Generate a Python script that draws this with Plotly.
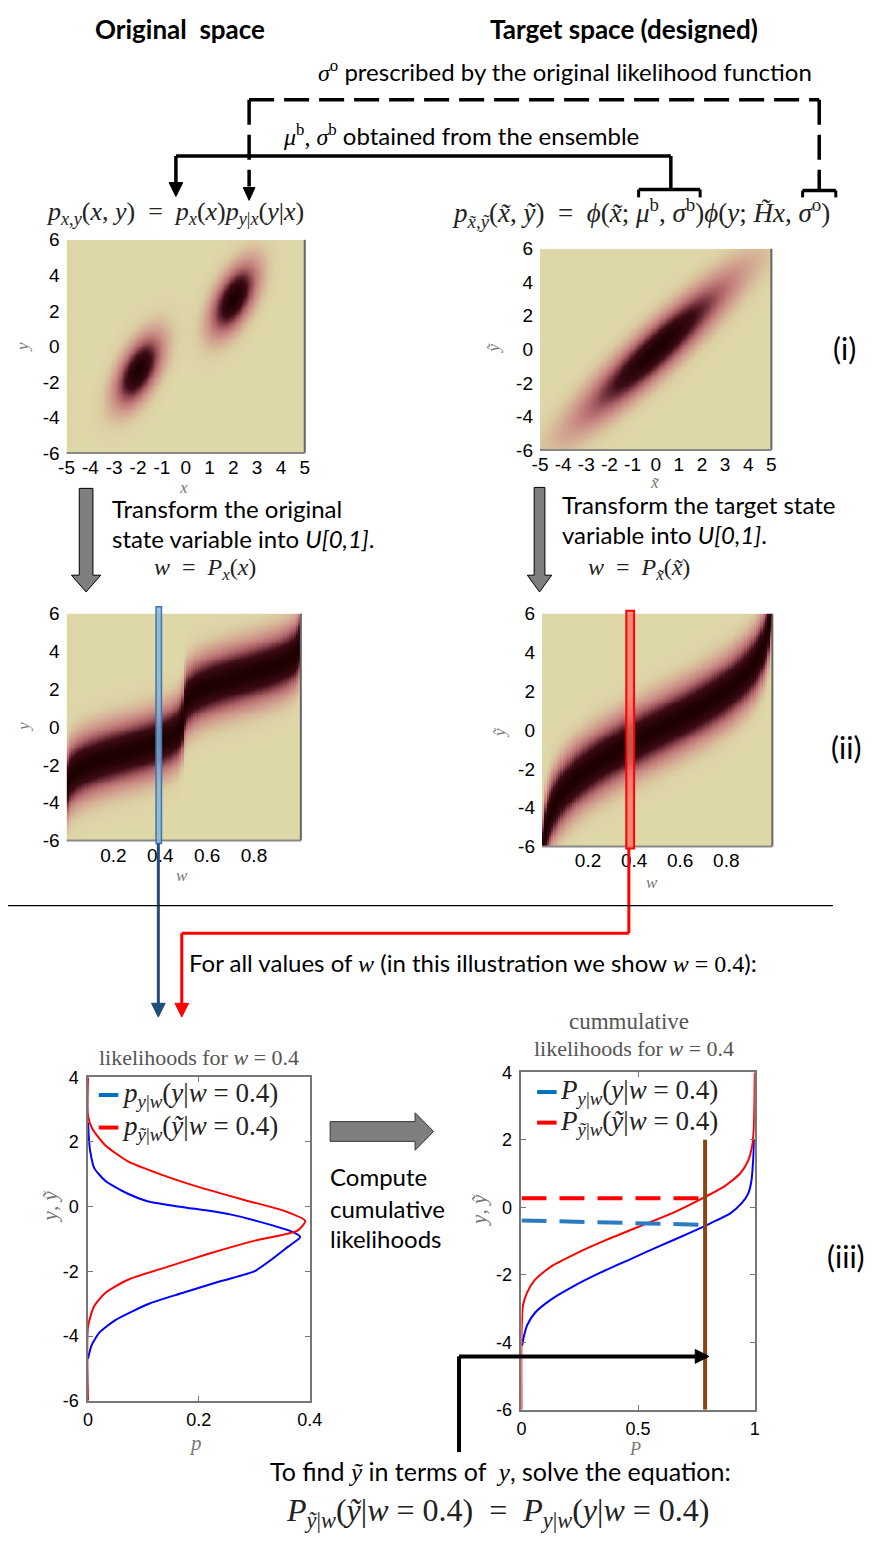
import math
import numpy as np
import plotly.graph_objects as go

W, HP = 882, 1541

# ---------------- data ----------------
# Original space: two-component Gaussian mixture in x, linear-Gaussian y|x
ORIG_WEIGHTS = [0.5, 0.5]
ORIG_MEAN_X = [-2.0, 2.0]
ORIG_SD_X = [0.6, 0.6]
ORIG_MEAN_Y = [-1.35, 2.7]
ORIG_SLOPE_Y = [1.15, 1.15]
SIGMA_O = 1.0
# Target (designed) space
MU_B = 0.0
SIGMA_B = 2.0
H_OBS = 1.2
W_SELECTED = 0.4

# (iii) likelihood curves
PDF_Y_BLUE = [2.6, 2.0, 1.7, 1.2, 0.8, 0.4, 0.17, 0.0, -0.23, -0.54, -0.8, -0.94,
              -1.25, -1.65, -2.0, -2.3, -2.67, -3.0, -3.5, -3.9, -4.3, -4.7]
PDF_P_BLUE = [0.0, 0.002, 0.004, 0.011, 0.031, 0.072, 0.107, 0.166, 0.254, 0.325, 0.372, 0.383,
              0.36, 0.33, 0.30, 0.24, 0.17, 0.11, 0.05, 0.02, 0.006, 0.0]
PDF_Y_RED = [4.0, 2.8, 2.4, 1.9, 1.4, 1.0, 0.58, 0.17, -0.13, -0.44, -0.74, -1.05,
             -1.45, -1.86, -2.26, -2.67, -3.08, -3.7, -6.0]
PDF_P_RED = [0.0, 0.0, 0.008, 0.031, 0.072, 0.131, 0.205, 0.29, 0.354, 0.392, 0.378, 0.301,
             0.219, 0.143, 0.072, 0.031, 0.011, 0.0, 0.0]

CDF_Y_BLUE = [-4.1, -3.9, -3.5, -3.12, -2.73, -2.33, -1.94, -1.55, -1.16, -0.76, -0.47,
              -0.18, 0.12, 0.41, 0.8, 1.4, 2.0]
CDF_P_BLUE = [0.003, 0.008, 0.024, 0.059, 0.128, 0.226, 0.338, 0.463, 0.589, 0.721, 0.812,
              0.895, 0.944, 0.972, 0.986, 0.993, 0.997]
CDF_Y_RED = [-6.0, -3.9, -2.92, -2.53, -2.14, -1.75, -1.35, -0.96, -0.57, -0.18, 0.22,
             0.61, 1.0, 1.39, 1.88, 2.37, 4.0]
CDF_P_RED = [0.0, 0.0, 0.006, 0.024, 0.059, 0.128, 0.24, 0.366, 0.505, 0.644, 0.763,
             0.868, 0.937, 0.972, 0.99, 0.996, 1.0]

P_CROSS = 0.787
DASH_RED_Y = [0.27, 0.27]
DASH_BLUE_Y = [-0.39, -0.52]
BROWN_Y = [2.0, -6.0]

TICKS_I_X = [-5, -4, -3, -2, -1, 0, 1, 2, 3, 4, 5]
TICKS_HEAT_Y = [-6, -4, -2, 0, 2, 4, 6]
TICKS_W = [0.2, 0.4, 0.6, 0.8]
TICKS_III_Y = [-6, -4, -2, 0, 2, 4]
TICKS_III_LX = [0, 0.2, 0.4]
TICKS_III_RX = [0, 0.5, 1]

LEGEND_LEFT = ["<i>p</i><sub><i>y</i>|<i>w</i></sub>(<i>y</i>|<i>w</i>&nbsp;=&nbsp;0.4)",
               "<i>p</i><sub><i>ỹ</i>|<i>w</i></sub>(<i>ỹ</i>|<i>w</i>&nbsp;=&nbsp;0.4)"]
LEGEND_RIGHT = ["<i>P</i><sub><i>y</i>|<i>w</i></sub>(<i>y</i>|<i>w</i>&nbsp;=&nbsp;0.4)",
                "<i>P</i><sub><i>ỹ</i>|<i>w</i></sub>(<i>ỹ</i>|<i>w</i>&nbsp;=&nbsp;0.4)"]
LEGEND_COLORS = ['#0072BD', '#FF0000']

# ---------------- helpers ----------------
SANS = "Lato, 'Open Sans', sans-serif"
SERIF = "'Liberation Serif', 'DejaVu Serif', serif"
TICKF = "'Liberation Sans', Arial, sans-serif"

PINK_SCALE = [
    [0.0, 'rgb(222,215,168)'],
    [0.02, 'rgb(220,208,164)'],
    [0.06, 'rgb(216,190,156)'],
    [0.13, 'rgb(210,165,145)'],
    [0.25, 'rgb(198,133,127)'],
    [0.40, 'rgb(168,95,100)'],
    [0.55, 'rgb(115,50,60)'],
    [0.70, 'rgb(60,12,20)'],
    [1.0, 'rgb(30,0,0)'],
]


def npdf(z, m, s):
    return np.exp(-0.5 * ((z - m) / s) ** 2) / (s * np.sqrt(2 * np.pi))


phi_cdf = np.vectorize(lambda z: 0.5 * (1 + math.erf(z / math.sqrt(2))))

xg = np.linspace(-5, 5, 201)
yg = np.linspace(-6, 6, 241)
wg = np.linspace(0.005, 0.995, 100)
XX, YY = np.meshgrid(xg, yg)

# (i) left
Z1 = np.zeros_like(XX)
for pi_k, mx, sx, my, b in zip(ORIG_WEIGHTS, ORIG_MEAN_X, ORIG_SD_X, ORIG_MEAN_Y, ORIG_SLOPE_Y):
    Z1 += pi_k * npdf(XX, mx, sx) * npdf(YY, my + b * (XX - mx), SIGMA_O)
Z1 /= Z1.max()

# (i) right
Z2 = npdf(XX, MU_B, SIGMA_B) * npdf(YY, MU_B + H_OBS * (XX - MU_B), SIGMA_O)
Z2 /= Z2.max()

# (ii) left
xf = np.linspace(-9, 9, 4001)
Fmix = np.zeros_like(xf)
for pi_k, mx, sx in zip(ORIG_WEIGHTS, ORIG_MEAN_X, ORIG_SD_X):
    Fmix += pi_k * phi_cdf((xf - mx) / sx)
x_of_w = np.interp(wg, Fmix, xf)
WW, YW = np.meshgrid(x_of_w, yg)
num = np.zeros_like(WW)
den = np.zeros_like(WW)
for pi_k, mx, sx, my, b in zip(ORIG_WEIGHTS, ORIG_MEAN_X, ORIG_SD_X, ORIG_MEAN_Y, ORIG_SLOPE_Y):
    r = pi_k * npdf(WW, mx, sx)
    num += r * npdf(YW, my + b * (WW - mx), SIGMA_O)
    den += r
Z3 = num / den
Z3 = Z3 / Z3.max(axis=0, keepdims=True)

# (ii) right
zf = np.linspace(-8, 8, 4001)
xt_of_w = MU_B + SIGMA_B * np.interp(wg, phi_cdf(zf), zf)
WT, YT = np.meshgrid(xt_of_w, yg)
Z4 = npdf(YT, H_OBS * WT, SIGMA_O)
Z4 = Z4 / Z4.max(axis=0, keepdims=True)


def px(x):
    return x / W


def py(y):
    return 1 - y / HP


def dom(a, b):
    return [a / W, b / W]


def vdom(top, bottom):
    return [1 - bottom / HP, 1 - top / HP]


fig = go.Figure()

heat_common = dict(colorscale=PINK_SCALE, showscale=False, zmin=0, zmax=1, hoverinfo='skip')
fig.add_trace(go.Heatmap(x=xg, y=yg, z=Z1, zsmooth='best', xaxis='x', yaxis='y', **heat_common))
fig.add_trace(go.Heatmap(x=xg, y=yg, z=Z2, zsmooth='best', xaxis='x2', yaxis='y2', **heat_common))
fig.add_trace(go.Heatmap(x=wg, y=yg, z=Z3, xaxis='x3', yaxis='y3', **heat_common))
fig.add_trace(go.Heatmap(x=wg, y=yg, z=Z4, xaxis='x4', yaxis='y4', **heat_common))

spl = dict(width=2, shape='spline', smoothing=0.6)
# (iii) left: likelihoods
fig.add_trace(go.Scatter(x=PDF_P_BLUE, y=PDF_Y_BLUE, mode='lines', line=dict(color='#0000FF', **spl),
                         xaxis='x5', yaxis='y5', hoverinfo='skip'))
fig.add_trace(go.Scatter(x=PDF_P_RED, y=PDF_Y_RED, mode='lines', line=dict(color='#FF0000', **spl),
                         xaxis='x5', yaxis='y5', hoverinfo='skip'))
# (iii) right: cumulative
fig.add_trace(go.Scatter(x=CDF_P_BLUE, y=CDF_Y_BLUE, mode='lines', line=dict(color='#0000FF', **spl),
                         xaxis='x6', yaxis='y6', hoverinfo='skip'))
fig.add_trace(go.Scatter(x=CDF_P_RED, y=CDF_Y_RED, mode='lines', line=dict(color='#FF0000', **spl),
                         xaxis='x6', yaxis='y6', hoverinfo='skip'))
fig.add_trace(go.Scatter(x=[0, P_CROSS], y=DASH_RED_Y, mode='lines', line=dict(color='#FF0000', width=4, dash='25px,13px'),
                         xaxis='x6', yaxis='y6', hoverinfo='skip'))
fig.add_trace(go.Scatter(x=[0, P_CROSS], y=DASH_BLUE_Y, mode='lines', line=dict(color='#2B7BC0', width=4, dash='25px,13px'),
                         xaxis='x6', yaxis='y6', hoverinfo='skip'))
fig.add_trace(go.Scatter(x=[P_CROSS, P_CROSS], y=BROWN_Y, mode='lines', line=dict(color='#8B4513', width=4),
                         xaxis='x6', yaxis='y6', hoverinfo='skip'))

tickfont = dict(family=TICKF, size=19, color='black')


def heat_axes(xdom, ydom, xr, xt, xa, ya):
    xd = dict(domain=xdom, range=xr, anchor=ya, tickvals=xt, ticktext=[str(v) for v in xt], ticks='',
              showgrid=False, zeroline=False, tickfont=tickfont, showline=False, fixedrange=True, ticklabelstandoff=1)
    yd = dict(domain=ydom, range=[-6, 6], anchor=xa, tickvals=TICKS_HEAT_Y, ticktext=[str(v) for v in TICKS_HEAT_Y],
              ticks='', showgrid=False, zeroline=False, tickfont=tickfont, showline=False, fixedrange=True,
              ticklabelstandoff=6)
    return xd, yd


x1, y1 = heat_axes(dom(60, 304), vdom(233, 449), [-5, 5], TICKS_I_X, 'x', 'y')
x2, y2 = heat_axes(dom(545, 782), vdom(242, 446), [-5, 5], TICKS_I_X, 'x2', 'y2')
x3, y3 = heat_axes(dom(60, 300), vdom(612, 842), [0, 1], TICKS_W, 'x3', 'y3')
x4, y4 = heat_axes(dom(547, 783), vdom(612, 848), [0, 1], TICKS_W, 'x4', 'y4')


def line_axes(xdom, ydom, xr, xt, xa, ya):
    common = dict(showgrid=False, zeroline=False, showline=True, linecolor='#777', linewidth=1.5,
                  mirror='ticks', ticks='inside', ticklen=5, tickcolor='#777',
                  tickfont=dict(family=TICKF, size=18, color='black'), fixedrange=True)
    xd = dict(domain=xdom, range=xr, anchor=ya, tickvals=xt, ticktext=[str(v) for v in xt],
              ticklabelstandoff=2, **common)
    yd = dict(domain=ydom, range=[-6, 4], anchor=xa, tickvals=TICKS_III_Y, ticktext=[str(v) for v in TICKS_III_Y],
              ticklabelstandoff=4, **common)
    return xd, yd


x5, y5 = line_axes(dom(82, 309), vdom(1082, 1410), [0, 0.4], TICKS_III_LX, 'x5', 'y5')
x6, y6 = line_axes(dom(526, 765), vdom(1077, 1419), [0, 1], TICKS_III_RX, 'x6', 'y6')

fig.update_layout(
    width=W, height=HP, autosize=False,
    margin=dict(l=0, r=0, t=0, b=0),
    paper_bgcolor='white', plot_bgcolor='rgba(0,0,0,0)',
    showlegend=False,
    xaxis=x1, yaxis=y1, xaxis2=x2, yaxis2=y2, xaxis3=x3, yaxis3=y3, xaxis4=x4, yaxis4=y4,
    xaxis5=x5, yaxis5=y5, xaxis6=x6, yaxis6=y6,
)

shapes = []


def seg(x0, y0, x1_, y1_, color='black', width=3, dash=None):
    ln = dict(color=color, width=width)
    if dash:
        ln['dash'] = dash
    shapes.append(dict(type='line', xref='paper', yref='paper', x0=px(x0), y0=py(y0), x1=px(x1_), y1=py(y1_),
                       line=ln, layer='above'))


def poly(pts, fill, lcolor='black', lwidth=1):
    d = "M" + " L".join(f"{px(a):.5f},{py(b):.5f}" for a, b in pts) + " Z"
    shapes.append(dict(type='path', xref='paper', yref='paper', path=d, fillcolor=fill,
                       line=dict(color=lcolor, width=lwidth), layer='above'))


def head_down(x, ytip, color, w=7, h=13):
    poly([(x - w, ytip - h), (x + w, ytip - h), (x, ytip)], color, color, 1)


# heatmap right/bottom borders
for xa, ya in [('x', 'y'), ('x2', 'y2'), ('x3', 'y3'), ('x4', 'y4')]:
    shapes.append(dict(type='line', xref=f'{xa} domain', yref=f'{ya} domain', x0=1, x1=1, y0=0, y1=1,
                       line=dict(color='#666', width=2), layer='above'))
    shapes.append(dict(type='line', xref=f'{xa} domain', yref=f'{ya} domain', x0=0, x1=1, y0=0, y1=0,
                       line=dict(color='#888', width=2), layer='above'))

# top connectors
seg(247, 91, 831, 91, dash='25px,10px', width=3.5)
seg(247, 91, 247, 179, dash='25px,10px', width=3.5)
seg(831, 91, 831, 183, dash='25px,10px', width=3.5)
seg(814, 183, 848, 183, width=3.5)
seg(814, 183, 814, 190, width=3)
seg(848, 183, 848, 190, width=3)
head_down(247, 193, 'black', 6, 13)
seg(172, 148, 679, 148, width=3.5)
seg(172, 148, 172, 176, width=3.5)
head_down(172, 189, 'black', 7, 14)
seg(679, 148, 679, 182, width=3.5)
seg(646, 182, 709, 182, width=3.5)
seg(646, 182, 646, 190, width=3)
seg(709, 182, 709, 190, width=3)

# grey block arrows
poly([(73, 485), (87, 485), (87, 573), (95, 573), (80, 590), (65, 573), (73, 573)], '#7F7F7F')
poly([(539, 484), (550, 484), (550, 573), (557, 573), (544.5, 590), (532, 573), (539, 573)], '#7F7F7F')
poly([(330, 1127), (417, 1127), (417, 1118), (436, 1137), (417, 1156), (417, 1147), (330, 1147)], '#7F7F7F', '#333', 1)

# selection bars at w = 0.4
shapes.append(dict(type='rect', xref='x3', yref='paper', x0=W_SELECTED - 0.018, x1=W_SELECTED + 0.005,
                   y0=py(845), y1=py(605), fillcolor='rgba(135,180,215,0.8)', line=dict(color='#3F74AD', width=1.5), layer='above'))
shapes.append(dict(type='rect', xref='x4', yref='paper', x0=W_SELECTED - 0.034, x1=W_SELECTED,
                   y0=py(850), y1=py(609), fillcolor='rgba(255,110,100,0.75)', line=dict(color='#FF0000', width=2), layer='above'))

# connection lines to (iii)
seg(154, 845, 154, 1008, color='#1F4E79', width=3)
head_down(154, 1021, '#1F4E79', 7, 14)
seg(636, 850, 636, 936, color='#FF0000', width=3)
seg(636, 936, 178, 936, color='#FF0000', width=3)
seg(178, 936, 178, 1008, color='#FF0000', width=3)
head_down(178, 1021, '#FF0000', 7, 14)

# separator
seg(0, 908, 845, 908, color='black', width=1.2)

# bottom arrow to brown line
seg(462, 1462, 462, 1365, width=4)
seg(462, 1365, 706, 1365, width=4)
poly([(704, 1358), (704, 1372), (718, 1365)], 'black', 'black', 1)

# legend swatches
for i, c in enumerate(LEGEND_COLORS):
    seg(93, 1100 + 33 * i, 113, 1100 + 33 * i, color=c, width=4)
    seg(542, 1097 + 31 * i, 562, 1097 + 31 * i, color=c, width=4)

fig.update_layout(shapes=shapes)

# ---------------- annotations ----------------


def ann(text, x, y, size=24, family=SANS, color='black', xanchor='center', yanchor='middle', angle=0):
    fig.add_annotation(text=text, x=px(x), y=py(y), xref='paper', yref='paper', showarrow=False,
                       font=dict(family=family, size=size, color=color), xanchor=xanchor, yanchor=yanchor,
                       textangle=angle)


def m(s):
    return f'<span style="font-family:Liberation Serif">{s}</span>'


ann("<b>Original  space</b>", 176, 19, size=26)
ann("<b>Target space (designed)</b>", 631, 19, size=26)
ann(m("<i>σ</i><sup>o</sup>") + " prescribed by the original likelihood function", 826, 62, size=24, xanchor='right')
ann(m("<i>μ</i><sup>b</sup>, <i>σ</i><sup>b</sup>") + " obtained from the ensemble", 280, 127, size=24, xanchor='left')

ann("<i>p</i><sub><i>x</i>,<i>y</i></sub>(<i>x</i>, <i>y</i>)&nbsp;&nbsp;=&nbsp;&nbsp;<i>p</i><sub><i>x</i></sub>(<i>x</i>)<i>p</i><sub><i>y</i>|<i>x</i></sub>(<i>y</i>|<i>x</i>)",
    171, 206, size=26, family=SERIF, color='#222')
ann("<i>p</i><sub><i>x̃</i>,<i>ỹ</i></sub>(<i>x̃</i>, <i>ỹ</i>)&nbsp;&nbsp;=&nbsp;&nbsp;<i>ϕ</i>(<i>x̃</i>;&nbsp;<i>μ</i><sup>b</sup>,&nbsp;<i>σ</i><sup>b</sup>)<i>ϕ</i>(<i>y</i>;&nbsp;<i>H̃x</i>,&nbsp;<i>σ</i><sup>o</sup>)",
    648, 206, size=27, family=SERIF, color='#222')

ann("Transform the original", 104, 505, xanchor='left')
ann("state variable into <i>U[0,1]</i>.", 104, 536, xanchor='left')
ann("<i>w</i>&nbsp;&nbsp;=&nbsp;&nbsp;<i>P</i><sub><i>x</i></sub>(<i>x</i>)", 147, 567, size=24, family=SERIF, color='#222', xanchor='left')
ann("Transform the target state", 565, 501, xanchor='left')
ann("variable into <i>U[0,1]</i>.", 565, 532, xanchor='left')
ann("<i>w</i>&nbsp;&nbsp;=&nbsp;&nbsp;<i>P</i><sub><i>x̃</i></sub>(<i>x̃</i>)", 592, 567, size=24, family=SERIF, color='#222', xanchor='left')

ann("(i)", 857, 343, size=30)
ann("(ii)", 858, 747, size=30)
ann("(iii)", 858, 1263, size=30)

ann("For all values of " + m("<i>w</i>") + " (in this illustration we show " + m("<i>w</i>&nbsp;=&nbsp;0.4") + "):",
    183, 966, xanchor='left')

ann("likelihoods for <i>w</i>&nbsp;=&nbsp;0.4", 196, 1062, size=22, family=SERIF, color='#555')
ann("cummulative", 636, 1025, size=23, family=SERIF, color='#555')
ann("likelihoods for <i>w</i>&nbsp;=&nbsp;0.4", 641, 1053, size=22, family=SERIF, color='#555')

for i, t in enumerate(LEGEND_LEFT):
    ann(t, 115, 1100 + 33 * i, size=27, family=SERIF, color='#222', xanchor='left')
for i, t in enumerate(LEGEND_RIGHT):
    ann(t, 563, 1097 + 31 * i, size=27, family=SERIF, color='#222', xanchor='left')

ann("Compute", 328, 1183, size=24, xanchor='left')
ann("cumulative", 328, 1215, size=24, xanchor='left')
ann("likelihoods", 328, 1245, size=24, xanchor='left')

ann("To find " + m("<i>ỹ</i>") + " in terms of  " + m("<i>y</i>") + ", solve the equation:", 504, 1481, size=25)
ann("<i>P</i><sub><i>ỹ</i>|<i>w</i></sub>(<i>ỹ</i>|<i>w</i>&nbsp;=&nbsp;0.4)&nbsp;&nbsp;=&nbsp;&nbsp;<i>P</i><sub><i>y</i>|<i>w</i></sub>(<i>y</i>|<i>w</i>&nbsp;=&nbsp;0.4)",
    502, 1523, size=32, family=SERIF, color='#222')

# axis titles
ann("<i>y</i>", 15, 342, size=17, family=SERIF, color='#777', angle=-90)
ann("<i>x</i>", 180, 484, size=17, family=SERIF, color='#777')
ann("<i>ỹ</i>", 497, 343, size=17, family=SERIF, color='#777', angle=-90)
ann("<i>x̃</i>", 662, 479, size=17, family=SERIF, color='#777')
ann("<i>y</i>", 15, 727, size=17, family=SERIF, color='#777', angle=-90)
ann("<i>w</i>", 178, 877, size=17, family=SERIF, color='#777')
ann("<i>ỹ</i>", 503, 733, size=17, family=SERIF, color='#777', angle=-90)
ann("<i>w</i>", 660, 885, size=17, family=SERIF, color='#777')
ann("<i>y</i>, <i>ỹ</i>", 43, 1213, size=21, family=SERIF, color='#777', angle=-90)
ann("<i>p</i>", 192, 1453, size=21, family=SERIF, color='#777')
ann("<i>y</i>, <i>ỹ</i>", 483, 1217, size=21, family=SERIF, color='#777', angle=-90)
ann("<i>P</i>", 642, 1459, size=18, family=SERIF, color='#777')

fig.write_html("out.html")
